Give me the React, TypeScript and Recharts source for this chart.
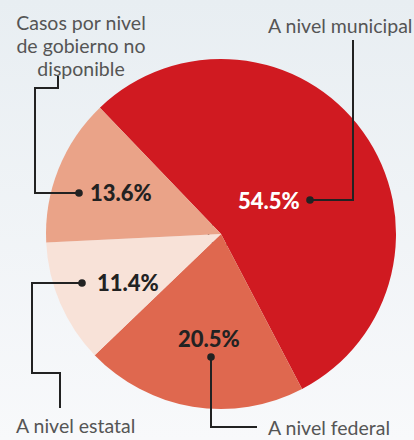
import { PieChart, Pie, Cell } from 'recharts'

const categories = ['A nivel municipal', 'A nivel federal', 'A nivel estatal', 'Casos por nivel de gobierno no disponible']
const shares = [54.5, 20.5, 11.4, 13.6]
const colors = ['#d01a21', '#df684f', '#f8e2d8', '#eaa388']

const data = categories.map((name, i) => ({ name, value: shares[i] }))

const FONT = 'Lato, "Open Sans", sans-serif'
const INK = '#222'
const GREY = '#555'

// hand-placed annotation layout, offsets from the pie centre
const layout = [
  {
    pct: { x: 17, y: -34, fill: '#fff', anchor: 'start' },
    dot: { x: 89, y: -34 },
    path: 'M89,-34 H132 V-194',
    title: [{ x: 47, y: -209, anchor: 'start', text: 'A nivel municipal' }],
  },
  {
    pct: { x: -43, y: 104, fill: INK, anchor: 'start' },
    dot: { x: -10, y: 123 },
    path: 'M-10,123 V193 H36',
    title: [{ x: 47, y: 193, anchor: 'start', text: 'A nivel federal' }],
  },
  {
    pct: { x: -124, y: 48, fill: INK, anchor: 'start' },
    dot: { x: -139, y: 49 },
    path: 'M-139,49 H-189 V139 H-161 V174',
    title: [{ x: -205, y: 191, anchor: 'start', text: 'A nivel estatal' }],
  },
  {
    pct: { x: -131, y: -42, fill: INK, anchor: 'start' },
    dot: { x: -142, y: -41 },
    path: 'M-142,-41 H-186 V-146 H-163 V-158',
    title: [
      { x: -140, y: -212, anchor: 'middle', text: 'Casos por nivel' },
      { x: -140, y: -189, anchor: 'middle', text: 'de gobierno no' },
      { x: -140, y: -166, anchor: 'middle', text: 'disponible' },
    ],
  },
]

function Annotation(props: any) {
  const { cx, cy, index } = props
  const l = layout[index]
  if (!l) return null
  return (
    <g>
      <path d={l.path} transform={`translate(${cx},${cy})`} fill="none" stroke={INK} strokeWidth={2} />
      <circle cx={cx + l.dot.x} cy={cy + l.dot.y} r={3.8} fill={INK} />
      <text
        x={cx + l.pct.x}
        y={cy + l.pct.y}
        fill={l.pct.fill}
        textAnchor={l.pct.anchor}
        dominantBaseline="central"
        fontFamily={FONT}
        fontWeight={900}
        fontSize={22}
      >
        {`${shares[index].toFixed(1)}%`}
      </text>
      {l.title.map((t, k) => (
        <text
          key={k}
          x={cx + t.x}
          y={cy + t.y}
          fill={GREY}
          textAnchor={t.anchor}
          dominantBaseline="central"
          fontFamily={FONT}
          fontSize={19.5}
        >
          {t.text}
        </text>
      ))}
    </g>
  )
}

export default function App() {
  return (
    <div
      style={{
        position: 'fixed',
        left: 0,
        top: 0,
        width: 414,
        height: 440,
        background: 'linear-gradient(180deg, #e8eef2 0%, #f8f9fb 100%)',
      }}
    >
      <PieChart width={414} height={440} margin={{ top: 0, right: 0, bottom: 0, left: 0 }}>
        <Pie
          data={data}
          dataKey="value"
          cx={221}
          cy={234}
          outerRadius={175}
          innerRadius={0}
          startAngle={133.8}
          endAngle={-226.2}
          stroke="none"
          label={Annotation}
          labelLine={false}
          isAnimationActive={false}
        >
          {data.map((d, i) => (
            <Cell key={d.name} fill={colors[i]} />
          ))}
        </Pie>
        <circle cx={221} cy={234} r={12.5} fill="#fff" stroke={INK} strokeWidth={1.5} />
      </PieChart>
    </div>
  )
}
